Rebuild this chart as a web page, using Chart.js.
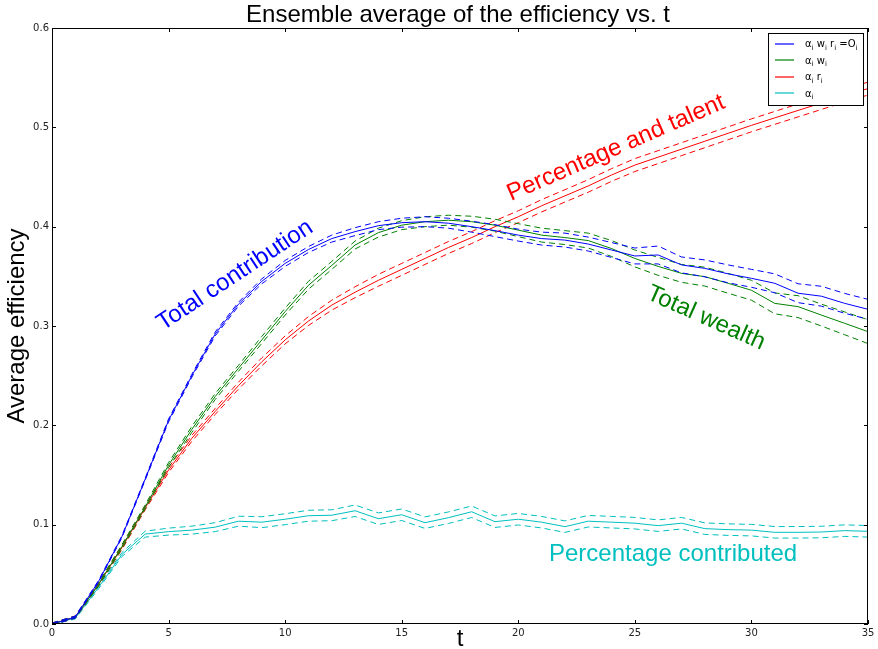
<!DOCTYPE html>
<html>
<head>
<meta charset="utf-8">
<script src="https://cdn.jsdelivr.net/npm/chart.js@4.4.0/dist/chart.umd.min.js"></script>
<style>
html,body{margin:0;padding:0;background:#fff;}
#wrap{width:878px;height:649px;}
</style>
</head>
<body>
<div id="wrap"><canvas id="c" width="878" height="649"></canvas></div>
<script>
// ---- data ----
const tValues = [0,1,2,3,4,5,6,7,8,9,10,11,12,13,14,15,16,17,18,19,20,21,22,23,24,25,26,27,28,29,30,31,32,33,34,35];
const contribution = [0,0.007,0.043,0.088,0.146,0.205,0.250,0.292,0.322,0.345,0.363,0.377,0.388,0.395,0.401,0.404,0.405,0.4035,0.400,0.396,0.3915,0.388,0.3865,0.3825,0.3765,0.3705,0.3715,0.3615,0.358,0.3525,0.348,0.343,0.333,0.330,0.3228,0.3168];
const contributionErr = [0.001,0.001,0.001,0.001,0.001,0.0015,0.0015,0.002,0.002,0.0025,0.003,0.003,0.0035,0.004,0.004,0.0045,0.005,0.005,0.0055,0.006,0.006,0.0065,0.007,0.007,0.0075,0.008,0.009,0.008,0.0085,0.009,0.009,0.0095,0.0095,0.010,0.010,0.010];
const wealth = [0,0.007,0.040,0.078,0.118,0.160,0.196,0.229,0.2575,0.286,0.3145,0.341,0.361,0.3815,0.394,0.4015,0.405,0.4065,0.405,0.4015,0.3965,0.3915,0.389,0.386,0.378,0.368,0.360,0.353,0.3497,0.343,0.336,0.3228,0.3195,0.311,0.3027,0.2943];
const wealthErr = [0.001,0.001,0.0015,0.002,0.002,0.0025,0.003,0.003,0.003,0.0035,0.0035,0.004,0.004,0.004,0.0045,0.0045,0.005,0.005,0.0055,0.006,0.0065,0.007,0.007,0.0075,0.008,0.0085,0.009,0.009,0.0095,0.010,0.010,0.0105,0.011,0.011,0.0115,0.012];
const talent = [0,0.007,0.040,0.077,0.117,0.155,0.187,0.214,0.240,0.264,0.286,0.305,0.321,0.334,0.346,0.357,0.368,0.379,0.389,0.400,0.410,0.421,0.431,0.441,0.452,0.462,0.470,0.478,0.486,0.494,0.502,0.5095,0.517,0.5245,0.532,0.539];
const talentErr = [0.001,0.001,0.0015,0.002,0.002,0.0025,0.003,0.003,0.0035,0.004,0.004,0.0045,0.005,0.0055,0.006,0.006,0.006,0.006,0.006,0.006,0.006,0.0062,0.0062,0.0063,0.0064,0.0065,0.0065,0.0065,0.0065,0.0065,0.0065,0.0065,0.0065,0.0065,0.0065,0.0065];
const percentage = [0,0.006,0.037,0.070,0.0905,0.093,0.0945,0.0975,0.1035,0.1025,0.1055,0.109,0.1095,0.114,0.106,0.110,0.102,0.107,0.113,0.103,0.1055,0.1025,0.098,0.1035,0.1025,0.1015,0.099,0.1015,0.096,0.095,0.0945,0.0923,0.0923,0.0926,0.094,0.0933];
const percentageErr = [0.0005,0.001,0.0015,0.002,0.003,0.0035,0.004,0.0045,0.005,0.0055,0.0055,0.0055,0.0055,0.0058,0.0058,0.0058,0.0058,0.0058,0.0058,0.0058,0.0058,0.0058,0.0058,0.0058,0.0058,0.0058,0.0058,0.0058,0.0058,0.0058,0.0058,0.0058,0.0058,0.0058,0.0058,0.0058];
const xTicks = [0,5,10,15,20,25,30,35];
const yTicks = [0,0.1,0.2,0.3,0.4,0.5,0.6];
const seriesNames = ['contribution','wealth','talent','percentage'];
const seriesColors = ['#0000ff','#008000','#ff0000','#00bfbf'];
const legendLabels = [
  [['α',0],['i',1],[' w',0],['i',1],[' r',0],['i',1],[' =O',0],['i',1]],
  [['α',0],['i',1],[' w',0],['i',1]],
  [['α',0],['i',1],[' r',0],['i',1]],
  [['α',0],['i',1]]
];
const annotations = [
  {text:'Total contribution', x:7.85, y:0.351, angle:-33.5, color:'#0000ff'},
  {text:'Percentage and talent', x:24.19, y:0.479, angle:-23.5, color:'#ff0000'},
  {text:'Total wealth', x:28.05, y:0.308, angle:24, color:'#008000'},
  {text:'Percentage contributed', x:26.64, y:0.0705, angle:0, color:'#00bfbf'}
];
const titleText = 'Ensemble average of the efficiency vs. t';
const xLabel = 't';
const yLabel = 'Average efficiency';

// ---- build datasets ----
const means = [contribution, wealth, talent, percentage];
const errs = [contributionErr, wealthErr, talentErr, percentageErr];
const datasets = [];
means.forEach((m, k) => {
  const col = seriesColors[k];
  const mk = (arr) => arr.map((v, i) => ({x: tValues[i], y: v}));
  datasets.push({label: seriesNames[k], data: mk(m), borderColor: col, borderWidth: 1, pointRadius: 0, tension: 0, fill: false});
  datasets.push({label: seriesNames[k] + '+', data: mk(m.map((v, i) => v + errs[k][i])), borderColor: col, borderWidth: 1, borderDash: [6,4], pointRadius: 0, tension: 0, fill: false});
  datasets.push({label: seriesNames[k] + '-', data: mk(m.map((v, i) => v - errs[k][i])), borderColor: col, borderWidth: 1, borderDash: [6,4], pointRadius: 0, tension: 0, fill: false});
});

const decor = {
  id: 'decor',
  afterDatasetsDraw(chart) {
    const ctx = chart.ctx;
    const a = chart.chartArea;
    const xs = chart.scales.x, ys = chart.scales.y;
    ctx.save();
    ctx.setLineDash([]);
    // frame
    ctx.strokeStyle = '#000';
    ctx.lineWidth = 1;
    ctx.strokeRect(a.left + 0.5, a.top + 0.5, a.right - a.left - 1, a.bottom - a.top - 1);
    // inward ticks, all four sides
    ctx.beginPath();
    xTicks.forEach(v => {
      const px = Math.round(xs.getPixelForValue(v)) + 0.5;
      ctx.moveTo(px, a.bottom); ctx.lineTo(px, a.bottom - 4);
      ctx.moveTo(px, a.top); ctx.lineTo(px, a.top + 4);
    });
    yTicks.forEach(v => {
      const py = Math.round(ys.getPixelForValue(v)) + 0.5;
      ctx.moveTo(a.left, py); ctx.lineTo(a.left + 4, py);
      ctx.moveTo(a.right, py); ctx.lineTo(a.right - 4, py);
    });
    ctx.stroke();

    // annotations
    annotations.forEach(an => {
      ctx.save();
      ctx.translate(xs.getPixelForValue(an.x), ys.getPixelForValue(an.y));
      ctx.rotate(an.angle * Math.PI / 180);
      ctx.font = '24px "Liberation Sans", Arial, sans-serif';
      ctx.fillStyle = an.color;
      ctx.textAlign = 'center';
      ctx.textBaseline = 'middle';
      ctx.fillText(an.text, 0, 0);
      ctx.restore();
    });

    // title
    ctx.fillStyle = '#000';
    ctx.font = '24px "Liberation Sans", Arial, sans-serif';
    ctx.textAlign = 'center';
    ctx.textBaseline = 'middle';
    ctx.fillText(titleText, (a.left + a.right) / 2 - 2, 15);
    // x label
    ctx.font = '24px "Liberation Sans", Arial, sans-serif';
    ctx.fillText(xLabel, (a.left + a.right) / 2, 639);
    // y label
    ctx.save();
    ctx.translate(17, (a.top + a.bottom) / 2);
    ctx.rotate(-Math.PI / 2);
    ctx.font = '24px "Liberation Sans", Arial, sans-serif';
    ctx.fillText(yLabel, 0, 0);
    ctx.restore();

    // legend
    const lx = 768, ly = 33, lw = 95, lh = 72;
    ctx.fillStyle = '#fff';
    ctx.fillRect(lx, ly, lw, lh);
    ctx.strokeStyle = '#000';
    ctx.lineWidth = 1;
    ctx.strokeRect(lx + 0.5, ly + 0.5, lw, lh);
    legendLabels.forEach((segs, k) => {
      const yy = ly + 10.5 + k * 16.6;
      ctx.strokeStyle = seriesColors[k];
      ctx.lineWidth = 1.2;
      ctx.beginPath();
      ctx.moveTo(lx + 7, Math.round(yy));
      ctx.lineTo(lx + 26, Math.round(yy));
      ctx.stroke();
      let cx = lx + 37;
      ctx.fillStyle = '#000';
      ctx.textAlign = 'left';
      ctx.textBaseline = 'alphabetic';
      segs.forEach(([s, sub]) => {
        ctx.font = sub ? '7px "DejaVu Sans", sans-serif' : '10px "DejaVu Sans", sans-serif';
        ctx.fillText(s, cx, yy + (sub ? 6 : 3.5));
        cx += ctx.measureText(s).width;
      });
    });
    ctx.restore();
  }
};

new Chart(document.getElementById('c'), {
  type: 'line',
  data: {datasets},
  options: {
    responsive: false,
    animation: false,
    layout: {padding: {left: 0, top: 28, right: 10, bottom: 0}},
    plugins: {legend: {display: false}, tooltip: {enabled: false}, title: {display: false}},
    scales: {
      x: {
        type: 'linear', min: 0, max: 35,
        afterFit: s => { s.height = 25; },
        afterBuildTicks: s => { s.ticks = xTicks.map(v => ({value: v})); },
        grid: {display: false, drawTicks: false},
        border: {display: false},
        ticks: {padding: 3, color: '#222', font: {family: 'DejaVu Sans', size: 10}, maxRotation: 0, callback: v => String(v)}
      },
      y: {
        type: 'linear', min: 0, max: 0.6,
        afterFit: s => { s.width = 52; },
        afterBuildTicks: s => { s.ticks = yTicks.map(v => ({value: v})); },
        grid: {display: false, drawTicks: false},
        border: {display: false},
        ticks: {padding: 3, color: '#222', font: {family: 'DejaVu Sans', size: 10}, callback: v => Number(v).toFixed(1)}
      }
    }
  },
  plugins: [decor]
});
</script>
</body>
</html>
